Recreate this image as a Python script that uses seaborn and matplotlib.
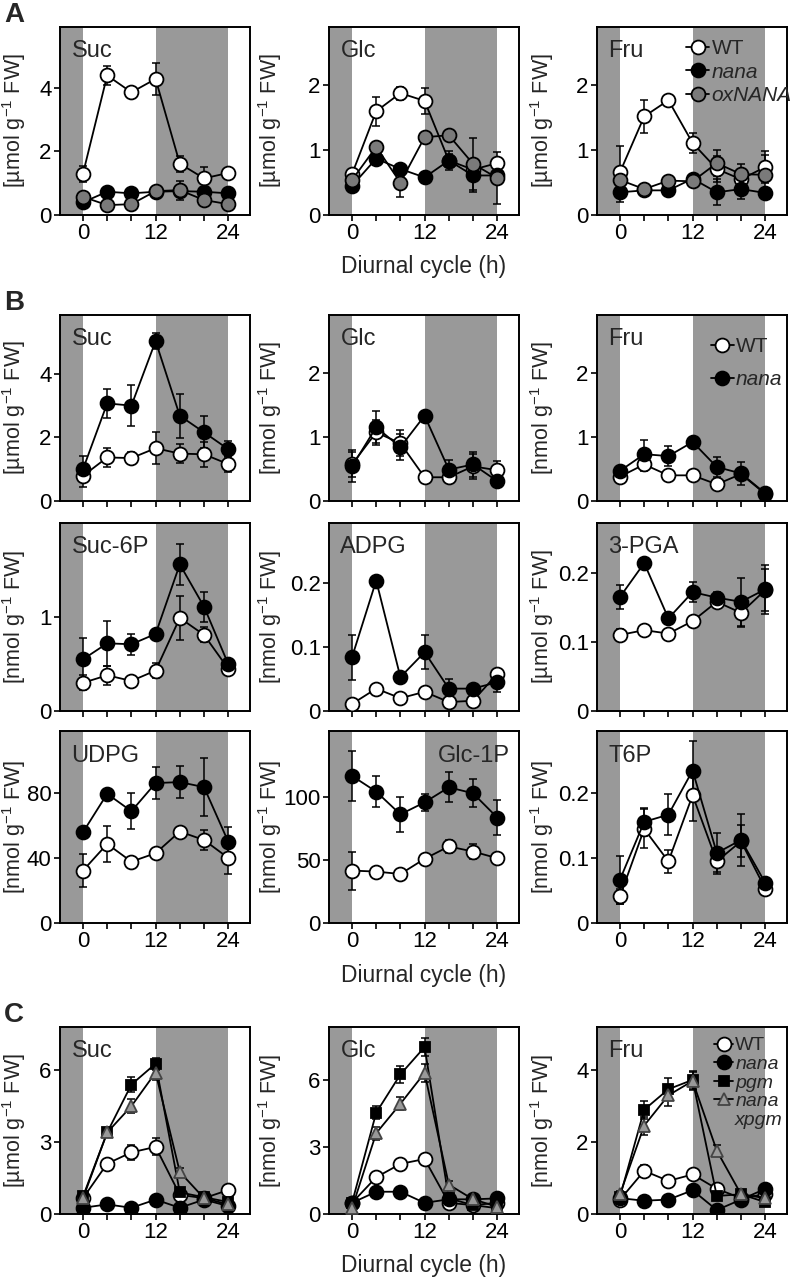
import matplotlib
matplotlib.use("Agg")
import matplotlib.pyplot as plt
from matplotlib.lines import Line2D
import seaborn as sns

hours = [0, 4, 8, 12, 16, 20, 24]

# ---- panel A (WT / nana / oxNANA)
a_suc_wt = [1.30, 4.38, 3.85, 4.27, 1.61, 1.15, 1.32]
a_suc_wt_err = [0.25, 0.30, 0.15, 0.50, 0.25, 0.35, 0.10]
a_suc_nana = [0.40, 0.73, 0.68, 0.73, 0.75, 0.73, 0.68]
a_suc_nana_err = [0.10, 0.08, 0.08, 0.10, 0.10, 0.10, 0.08]
a_suc_ox = [0.57, 0.31, 0.34, 0.75, 0.78, 0.47, 0.34]
a_suc_ox_err = [0.10, 0.08, 0.08, 0.10, 0.30, 0.10, 0.08]

a_glc_wt = [0.63, 1.60, 1.88, 1.76, 0.84, 0.70, 0.80]
a_glc_wt_err = [0.05, 0.22, 0.10, 0.20, 0.10, 0.10, 0.08]
a_glc_nana = [0.45, 0.87, 0.71, 0.58, 0.84, 0.61, 0.61]
a_glc_nana_err = [0.10, 0.08, 0.06, 0.05, 0.15, 0.25, 0.08]
a_glc_ox = [0.54, 1.05, 0.50, 1.20, 1.23, 0.79, 0.57]
a_glc_ox_err = [0.06, 0.08, 0.22, 0.06, 0.06, 0.40, 0.40]

a_fru_wt = [0.66, 1.52, 1.77, 1.11, 0.71, 0.55, 0.74]
a_fru_wt_err = [0.40, 0.25, 0.07, 0.15, 0.20, 0.10, 0.25]
a_fru_nana = [0.35, 0.38, 0.38, 0.56, 0.35, 0.40, 0.34]
a_fru_nana_err = [0.15, 0.05, 0.06, 0.05, 0.20, 0.15, 0.05]
a_fru_ox = [0.54, 0.40, 0.53, 0.52, 0.80, 0.63, 0.62]
a_fru_ox_err = [0.06, 0.05, 0.05, 0.05, 0.20, 0.15, 0.30]

# ---- panel B (WT / nana)
b_suc_wt = [0.79, 1.37, 1.35, 1.66, 1.49, 1.47, 1.16]
b_suc_wt_err = [0.35, 0.30, 0.20, 0.50, 0.30, 0.40, 0.25]
b_suc_nana = [1.00, 3.07, 3.00, 5.03, 2.68, 2.16, 1.63]
b_suc_nana_err = [0.40, 0.45, 0.65, 0.25, 0.70, 0.50, 0.25]

b_glc_wt = [0.57, 1.07, 0.90, 0.37, 0.37, 0.54, 0.48]
b_glc_wt_err = [0.20, 0.20, 0.20, 0.03, 0.03, 0.20, 0.15]
b_glc_nana = [0.54, 1.15, 0.84, 1.33, 0.49, 0.57, 0.31]
b_glc_nana_err = [0.25, 0.25, 0.20, 0.05, 0.15, 0.20, 0.05]

b_fru_wt = [0.38, 0.57, 0.40, 0.40, 0.26, 0.42, 0.11]
b_fru_wt_err = [0.05, 0.10, 0.04, 0.04, 0.04, 0.10, 0.04]
b_fru_nana = [0.47, 0.73, 0.70, 0.92, 0.53, 0.43, 0.12]
b_fru_nana_err = [0.06, 0.22, 0.15, 0.05, 0.15, 0.18, 0.05]

b_s6p_wt = [0.30, 0.38, 0.32, 0.43, 0.99, 0.81, 0.45]
b_s6p_wt_err = [0.08, 0.10, 0.04, 0.08, 0.23, 0.08, 0.04]
b_s6p_nana = [0.55, 0.72, 0.71, 0.82, 1.56, 1.11, 0.50]
b_s6p_nana_err = [0.23, 0.24, 0.11, 0.04, 0.22, 0.16, 0.04]

b_adpg_wt = [0.011, 0.035, 0.020, 0.030, 0.014, 0.016, 0.058]
b_adpg_wt_err = [0.003, 0.003, 0.003, 0.003, 0.003, 0.003, 0.004]
b_adpg_nana = [0.084, 0.204, 0.053, 0.092, 0.035, 0.035, 0.045]
b_adpg_nana_err = [0.035, 0.004, 0.005, 0.027, 0.015, 0.004, 0.015]

b_pga_wt = [0.110, 0.117, 0.112, 0.130, 0.158, 0.142, 0.175]
b_pga_wt_err = [0.008, 0.007, 0.005, 0.005, 0.005, 0.020, 0.030]
b_pga_nana = [0.165, 0.214, 0.134, 0.172, 0.164, 0.158, 0.176]
b_pga_nana_err = [0.018, 0.005, 0.005, 0.015, 0.008, 0.035, 0.035]

b_udpg_wt = [32.2, 48.6, 37.7, 42.9, 56.2, 51.0, 40.0]
b_udpg_wt_err = [10.0, 11.0, 3.0, 3.0, 3.0, 6.0, 10.0]
b_udpg_nana = [55.8, 79.4, 68.7, 86.0, 86.6, 83.5, 50.0]
b_udpg_nana_err = [3.0, 3.0, 11.0, 10.0, 10.0, 18.0, 9.0]

b_g1p_wt = [41.5, 40.7, 38.8, 50.8, 60.6, 56.6, 51.3]
b_g1p_wt_err = [15.0, 3.0, 3.0, 3.0, 5.0, 6.0, 3.0]
b_g1p_nana = [116.5, 104.0, 86.0, 95.5, 107.4, 102.7, 83.5]
b_g1p_nana_err = [20.0, 12.0, 14.0, 7.0, 12.0, 11.0, 14.0]

b_t6p_wt = [0.041, 0.145, 0.095, 0.197, 0.095, 0.126, 0.053]
b_t6p_wt_err = [0.012, 0.030, 0.018, 0.040, 0.020, 0.025, 0.005]
b_t6p_nana = [0.067, 0.156, 0.167, 0.235, 0.108, 0.128, 0.062]
b_t6p_nana_err = [0.037, 0.022, 0.032, 0.046, 0.030, 0.040, 0.005]

# ---- panel C (WT / nana / pgm / nana x pgm)
c_suc_wt = [0.66, 2.10, 2.57, 2.80, 0.80, 0.66, 1.00]
c_suc_wt_err = [0.10, 0.20, 0.30, 0.35, 0.15, 0.10, 0.10]
c_suc_nana = [0.26, 0.40, 0.26, 0.60, 0.26, 0.60, 0.33]
c_suc_nana_err = [0.05, 0.05, 0.05, 0.10, 0.05, 0.10, 0.05]
c_suc_pgm = [0.73, 3.40, 5.40, 6.27, 0.90, 0.70, 0.50]
c_suc_pgm_err = [0.10, 0.15, 0.30, 0.25, 0.10, 0.10, 0.10]
c_suc_nxp = [0.66, 3.40, 4.50, 5.90, 1.75, 0.66, 0.40]
c_suc_nxp_err = [0.10, 0.15, 0.30, 0.30, 0.15, 0.10, 0.10]

c_glc_wt = [0.50, 1.65, 2.25, 2.47, 0.50, 0.40, 0.50]
c_glc_wt_err = [0.10, 0.15, 0.20, 0.20, 0.10, 0.10, 0.10]
c_glc_nana = [0.50, 1.00, 1.00, 0.50, 0.66, 0.66, 0.70]
c_glc_nana_err = [0.10, 0.10, 0.10, 0.10, 0.10, 0.10, 0.10]
c_glc_pgm = [0.50, 4.55, 6.27, 7.50, 0.70, 0.40, 0.26]
c_glc_pgm_err = [0.10, 0.30, 0.40, 0.40, 0.10, 0.10, 0.05]
c_glc_nxp = [0.26, 3.63, 4.95, 6.34, 1.32, 0.66, 0.33]
c_glc_nxp_err = [0.05, 0.30, 0.30, 0.40, 0.15, 0.10, 0.05]

c_fru_wt = [0.40, 1.20, 0.92, 1.10, 0.70, 0.44, 0.55]
c_fru_wt_err = [0.08, 0.15, 0.10, 0.10, 0.10, 0.08, 0.08]
c_fru_nana = [0.44, 0.37, 0.40, 0.66, 0.11, 0.40, 0.70]
c_fru_nana_err = [0.08, 0.05, 0.05, 0.10, 0.05, 0.08, 0.08]
c_fru_pgm = [0.48, 2.90, 3.47, 3.73, 0.50, 0.55, 0.33]
c_fru_pgm_err = [0.10, 0.25, 0.30, 0.25, 0.10, 0.10, 0.08]
c_fru_nxp = [0.55, 2.46, 3.30, 3.70, 1.76, 0.55, 0.44]
c_fru_nxp_err = [0.10, 0.25, 0.30, 0.25, 0.15, 0.10, 0.08]

sns.set_style("ticks")
plt.rcParams["font.family"] = ["Liberation Sans", "DejaVu Sans"]
plt.rcParams["mathtext.fontset"] = "custom"
plt.rcParams["mathtext.rm"] = "Liberation Sans"
plt.rcParams["mathtext.it"] = "Liberation Sans:italic"

SHADE = "#999999"
STYLES = {
    "WT": dict(marker="o", markerfacecolor="white", markeredgecolor="black", markersize=10),
    "nana": dict(marker="o", markerfacecolor="black", markeredgecolor="black", markersize=10),
    "oxNANA": dict(marker="o", markerfacecolor="#7a7a7a", markeredgecolor="black", markersize=10),
    "pgm": dict(marker="s", markerfacecolor="black", markeredgecolor="black", markersize=7),
    "nana x pgm": dict(marker="^", markerfacecolor="#999999", markeredgecolor="#444444", markersize=9),
}
UMOL = r"[µmol g$^{-1}$ FW]"
NMOL = r"[nmol g$^{-1}$ FW]"

W, H = 797, 1282
fig = plt.figure(figsize=(W / 100, H / 100), dpi=100)

col_left = [60, 329, 597]
col_w = 190
ylab_x = [-0.17, -0.235, -0.215]
rows = {"A": (27, 215), "B1": (315, 501), "B2": (523, 711), "B3": (731, 923), "C": (1027, 1214)}


def make_ax(col, row):
    top, bot = rows[row]
    ax = fig.add_axes([col_left[col] / W, 1 - bot / H, col_w / W, (bot - top) / H])
    return ax, col


def fmt(v):
    return "0" if v == 0 else f"{v:g}"


def draw(axc, series, name, unit, yticks, ymax, xlabels=False, xlabel=False,
         name_right=False, legend=None):
    ax, col = axc
    ax.axvspan(-4, 0, color=SHADE, lw=0, zorder=0)
    ax.axvspan(12, 24, color=SHADE, lw=0, zorder=0)
    for label, mean, err in series:
        ax.errorbar(hours, mean, yerr=err, fmt="none", ecolor="black",
                    elinewidth=1.1, capsize=3, capthick=1.1, zorder=2)
        sns.lineplot(x=hours, y=mean, ax=ax, color="black", lw=1.3,
                     markeredgewidth=1.3, zorder=3, legend=False, **STYLES[label])
    ax.set_xlim(-3.8, 27.6)
    ax.set_ylim(0, ymax)
    ax.set_xticks([0, 12, 24])
    ax.set_xticks([4, 8, 16, 20], minor=True)
    ax.set_yticks(yticks)
    ax.set_yticklabels([fmt(v) for v in yticks])
    if xlabels:
        ax.set_xticklabels(["0", "12", "24"])
    else:
        ax.set_xticklabels([])
    ax.tick_params(axis="both", which="both", direction="out", length=4, width=1.2,
                   labelsize=16, pad=2, colors="black")
    for s in ax.spines.values():
        s.set_linewidth(1.4)
        s.set_color("black")
    ax.set_ylabel(unit, fontsize=15.5)
    ax.yaxis.set_label_coords(ylab_x[col], 0.5)
    ax.set_xlabel("")
    if xlabel:
        ax.set_xlabel("Diurnal cycle (h)", fontsize=16.5)
        ax.xaxis.set_label_coords(0.5, -0.215)
    if name_right:
        ax.text(0.95, 0.87, name, transform=ax.transAxes, ha="right", va="center", fontsize=17)
    else:
        ax.text(0.06, 0.87, name, transform=ax.transAxes, ha="left", va="center", fontsize=17)
    if legend is not None:
        handles = []
        labels = []
        for lab, _, _ in series:
            st = STYLES[lab]
            if lab == "nana x pgm":
                # two-line entry: handle next to the first line only
                handles.append(Line2D([], [], color="black", lw=1.3, markeredgewidth=1.3, **st))
                labels.append("nana")
                handles.append(Line2D([], [], lw=0, marker=None))
                labels.append("xpgm")
            else:
                handles.append(Line2D([], [], color="black", lw=1.3, markeredgewidth=1.3, **st))
                labels.append(lab)
        leg = ax.legend(handles, labels, loc="upper right", frameon=False,
                        handletextpad=0.1, borderaxespad=0.2, **legend)
        for t in leg.get_texts():
            if t.get_text() != "WT":
                t.set_style("italic")


# A
axc = make_ax(0, "A")
draw(axc, [("WT", a_suc_wt, a_suc_wt_err), ("nana", a_suc_nana, a_suc_nana_err),
           ("oxNANA", a_suc_ox, a_suc_ox_err)], "Suc", UMOL, [0, 2, 4], 5.9, xlabels=True)
axc = make_ax(1, "A")
draw(axc, [("WT", a_glc_wt, a_glc_wt_err), ("nana", a_glc_nana, a_glc_nana_err),
           ("oxNANA", a_glc_ox, a_glc_ox_err)], "Glc", UMOL, [0, 1, 2], 2.9, xlabels=True, xlabel=True)
axc = make_ax(2, "A")
draw(axc, [("WT", a_fru_wt, a_fru_wt_err), ("nana", a_fru_nana, a_fru_nana_err),
           ("oxNANA", a_fru_ox, a_fru_ox_err)], "Fru", UMOL, [0, 1, 2], 2.9, xlabels=True,
     legend=dict(fontsize=15, handlelength=1.1, labelspacing=0.2, bbox_to_anchor=(1.09, 1.0)))

# B row 1
axc = make_ax(0, "B1")
draw(axc, [("WT", b_suc_wt, b_suc_wt_err), ("nana", b_suc_nana, b_suc_nana_err)],
     "Suc", UMOL, [0, 2, 4], 5.85)
axc = make_ax(1, "B1")
draw(axc, [("WT", b_glc_wt, b_glc_wt_err), ("nana", b_glc_nana, b_glc_nana_err)],
     "Glc", NMOL, [0, 1, 2], 2.9)
axc = make_ax(2, "B1")
draw(axc, [("WT", b_fru_wt, b_fru_wt_err), ("nana", b_fru_nana, b_fru_nana_err)],
     "Fru", NMOL, [0, 1, 2], 2.9,
     legend=dict(fontsize=15, handlelength=1.1, labelspacing=0.7, bbox_to_anchor=(1.04, 0.95)))

# B row 2
axc = make_ax(0, "B2")
draw(axc, [("WT", b_s6p_wt, b_s6p_wt_err), ("nana", b_s6p_nana, b_s6p_nana_err)],
     "Suc-6P", NMOL, [0, 1], 2.0)
axc = make_ax(1, "B2")
draw(axc, [("WT", b_adpg_wt, b_adpg_wt_err), ("nana", b_adpg_nana, b_adpg_nana_err)],
     "ADPG", NMOL, [0, 0.1, 0.2], 0.294)
axc = make_ax(2, "B2")
draw(axc, [("WT", b_pga_wt, b_pga_wt_err), ("nana", b_pga_nana, b_pga_nana_err)],
     "3-PGA", UMOL, [0, 0.1, 0.2], 0.272)

# B row 3
axc = make_ax(0, "B3")
draw(axc, [("WT", b_udpg_wt, b_udpg_wt_err), ("nana", b_udpg_nana, b_udpg_nana_err)],
     "UDPG", NMOL, [0, 40, 80], 118, xlabels=True)
axc = make_ax(1, "B3")
draw(axc, [("WT", b_g1p_wt, b_g1p_wt_err), ("nana", b_g1p_nana, b_g1p_nana_err)],
     "Glc-1P", NMOL, [0, 50, 100], 152, xlabels=True, xlabel=True, name_right=True)
axc = make_ax(2, "B3")
draw(axc, [("WT", b_t6p_wt, b_t6p_wt_err), ("nana", b_t6p_nana, b_t6p_nana_err)],
     "T6P", NMOL, [0, 0.1, 0.2], 0.296, xlabels=True)

# C
axc = make_ax(0, "C")
draw(axc, [("WT", c_suc_wt, c_suc_wt_err), ("nana", c_suc_nana, c_suc_nana_err),
           ("pgm", c_suc_pgm, c_suc_pgm_err), ("nana x pgm", c_suc_nxp, c_suc_nxp_err)],
     "Suc", UMOL, [0, 3, 6], 7.8, xlabels=True)
axc = make_ax(1, "C")
draw(axc, [("WT", c_glc_wt, c_glc_wt_err), ("nana", c_glc_nana, c_glc_nana_err),
           ("pgm", c_glc_pgm, c_glc_pgm_err), ("nana x pgm", c_glc_nxp, c_glc_nxp_err)],
     "Glc", NMOL, [0, 3, 6], 8.4, xlabels=True, xlabel=True)
axc = make_ax(2, "C")
draw(axc, [("WT", c_fru_wt, c_fru_wt_err), ("nana", c_fru_nana, c_fru_nana_err),
           ("pgm", c_fru_pgm, c_fru_pgm_err), ("nana x pgm", c_fru_nxp, c_fru_nxp_err)],
     "Fru", NMOL, [0, 2, 4], 5.2, xlabels=True,
     legend=dict(fontsize=14, handlelength=1.0, labelspacing=0.05, bbox_to_anchor=(1.04, 1.01)))

for letter, ypx in [("A", 15), ("B", 303), ("C", 1015)]:
    fig.text(4 / W, 1 - ypx / H, letter, fontsize=20, fontweight="bold", va="center", ha="left")

fig.savefig("out.png", dpi=100)
